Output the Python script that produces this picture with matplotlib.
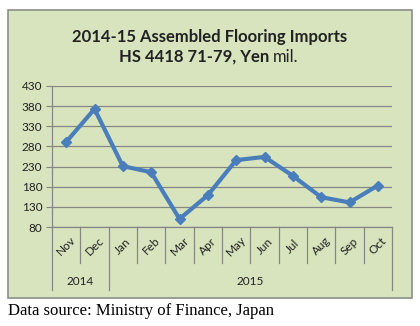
import matplotlib.pyplot as plt
import matplotlib.transforms as mtransforms
from matplotlib.patches import Rectangle

# Monthly imports, Yen mil.
months = ['Nov', 'Dec', 'Jan', 'Feb', 'Mar', 'Apr', 'May', 'Jun', 'Jul', 'Aug', 'Sep', 'Oct']
values = [291, 373, 231, 216, 100, 159, 246, 254, 207, 154, 141, 183]
years = ['2014', '2015']
year_spans = [(0, 1), (2, 11)]
y_ticks = [80, 130, 180, 230, 280, 330, 380, 430]

plt.rcParams['font.family'] = ['Lato', 'DejaVu Sans']

fig = plt.figure(figsize=(4.2, 3.26), dpi=100)
fig.patch.set_facecolor('white')

# green chart box
box = Rectangle((8 / 420, 1 - 298 / 326), 404 / 420, 288 / 326, transform=fig.transFigure,
                facecolor='#d7e4bd', edgecolor='#8c8c8c', linewidth=1.2, zorder=-5)
fig.patches.append(box)

ax = fig.add_axes([52 / 420, 1 - 227 / 326, 340 / 420, 141 / 326])
ax.set_facecolor('none')

x = list(range(len(months)))
ax.plot(x, values, color='#4a7ebb', linewidth=3, marker='D', markersize=5, zorder=3)

ax.set_xlim(-0.5, len(months) - 0.5)
ax.set_ylim(80, 430)
ax.set_yticks(y_ticks)
ax.set_yticklabels([str(t) for t in y_ticks], fontsize=8.5, color='#222222')
ax.tick_params(axis='y', length=4, color='#868686', pad=3)
ax.set_xticks([])
ax.yaxis.grid(True, color='#868686', linewidth=0.9)
for s in ['top', 'right']:
    ax.spines[s].set_visible(False)
for s in ['left', 'bottom']:
    ax.spines[s].set_color('#868686')
    ax.spines[s].set_linewidth(0.9)

trans = mtransforms.blended_transform_factory(ax.transData, ax.transAxes)

# month labels and separators
for i, m in enumerate(months):
    ax.text(i, -0.135, m, transform=trans, rotation=45, ha='center', va='center',
            fontsize=8.5, color='#222222')
for b in range(len(months) + 1):
    pos = b - 0.5
    long_line = b in (0, 2, len(months))
    y_end = -0.445 if long_line else -0.255
    ax.plot([pos, pos], [0, y_end], transform=trans, color='#868686',
            linewidth=0.9, clip_on=False)

# year labels
for yr, (a, b) in zip(years, year_spans):
    ax.text((a + b) / 2, -0.385, yr, transform=trans, ha='center', va='center',
            fontsize=8.5, color='#222222')

# title
fig.text(0.5, 1 - 37 / 326, '2014-15 Assembled Flooring Imports', ha='center', va='center',
         fontsize=12, fontweight='bold', color='#222222')
fig.text(273 / 420, 1 - 57 / 326, 'HS 4418 71-79, Yen ', ha='right', va='center',
         fontsize=12, fontweight='bold', color='#222222')
fig.text(273 / 420, 1 - 57 / 326, 'mil.', ha='left', va='center',
         fontsize=12, color='#222222')

# footer
fig.text(8 / 420, 1 - 311 / 326, 'Data source: Ministry of Finance, Japan', ha='left', va='center',
         fontsize=12, family='Liberation Serif', color='black')

fig.savefig('out.png', dpi=100)
